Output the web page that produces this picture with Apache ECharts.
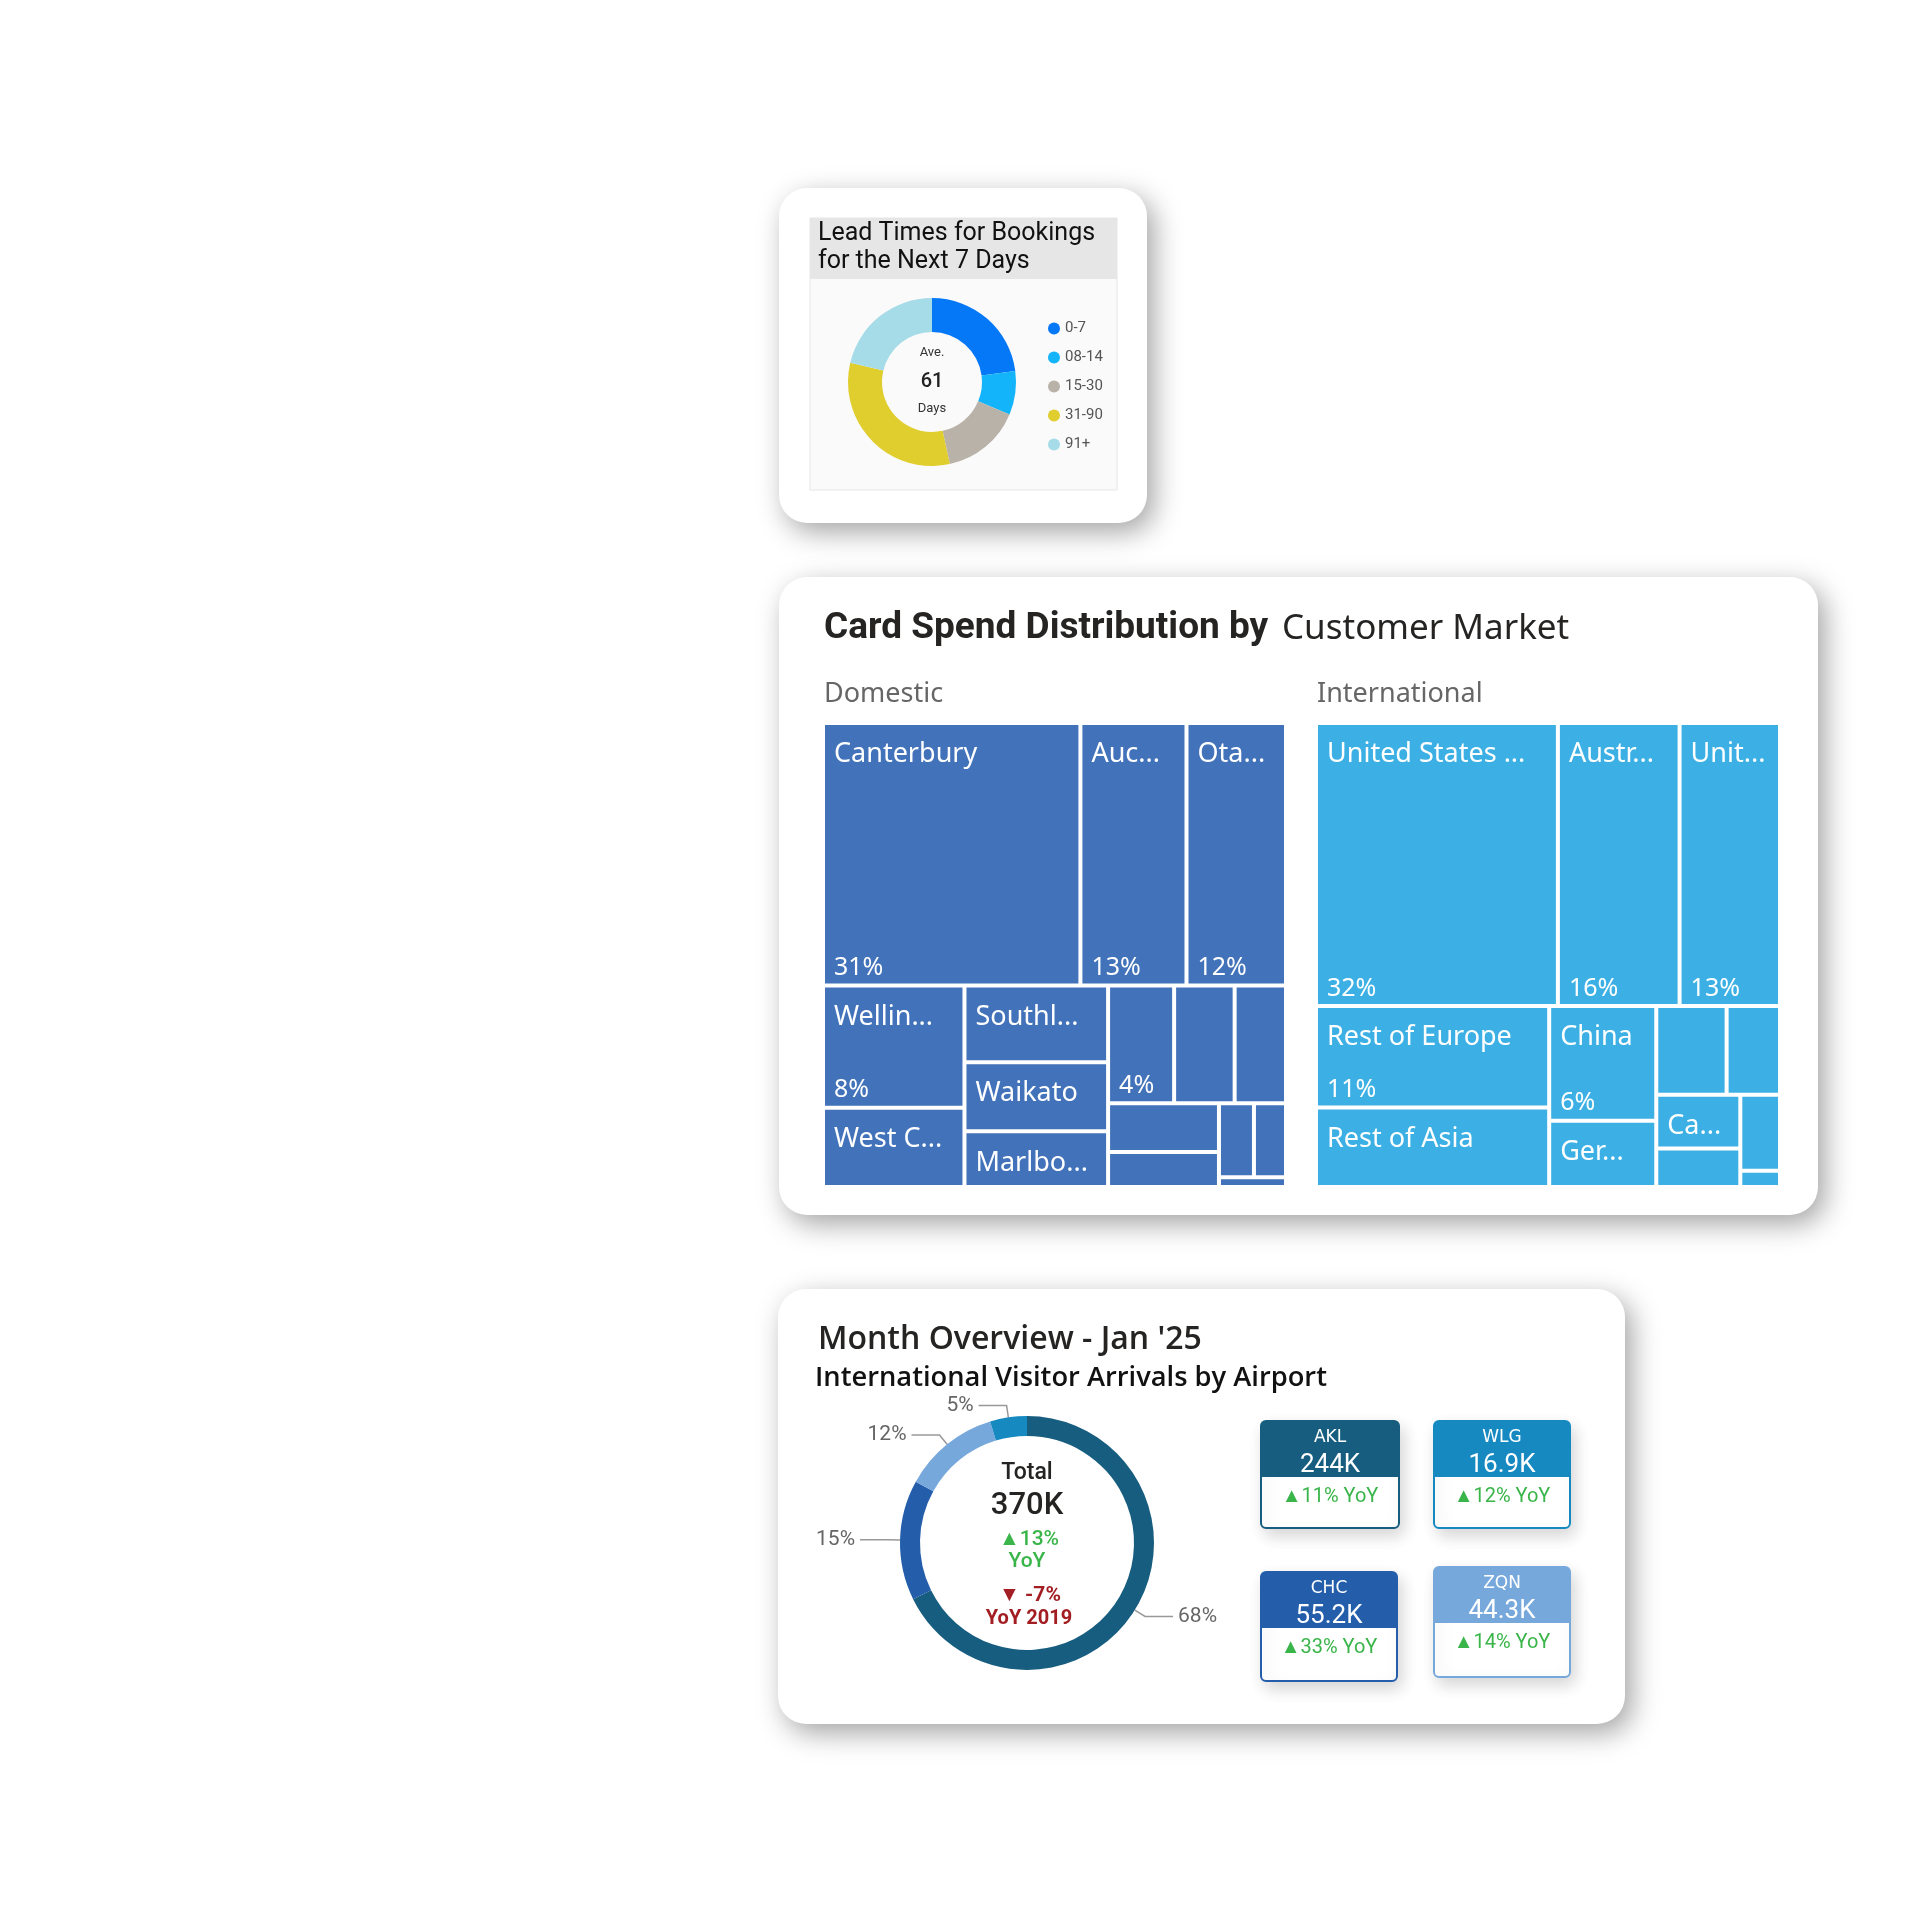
<!DOCTYPE html>
<html><head><meta charset="utf-8">
<script src="https://cdn.jsdelivr.net/npm/echarts@6/dist/echarts.min.js"></script>
<style>html,body{margin:0;padding:0;background:#fff}#c{width:1920px;height:1920px}</style>
</head><body><div id="c"></div>
<script>
// ---------- Lead times donut ----------
const leadCategories = ['0-7', '08-14', '15-30', '31-90', '91+'];
const leadShares = [22.9, 8.4, 15.3, 32.1, 21.3];
const leadColors = ['#0478f7', '#13b4f9', '#b9b2a8', '#e0cd2e', '#a6dbe8'];
const avgLeadDays = 61;

// ---------- Card spend treemaps ----------
const domesticRegions = ['Canterbury', 'Auckland', 'Otago', 'Wellington', 'West Coast', 'Southland', 'Waikato', 'Marlborough', 'Bay of Plenty', 'Nelson', "Hawke's Bay", 'Northland', 'Taranaki', 'Manawatū-Whanganui', 'Tasman', 'Gisborne'];
const domesticShort = ['Canterbury', 'Auc...', 'Ota...', 'Wellin...', 'West C...', 'Southl...', 'Waikato', 'Marlbo...', '', '', '', '', '', '', '', ''];
const domesticSpend = [31.3, 12.9, 12.1, 8.0, 5.2, 5.1, 4.6, 3.7, 3.6, 3.3, 2.8, 2.5, 1.8, 1.2, 1.1, 0.3];
const domesticShowPct = [1, 1, 1, 1, 0, 0, 0, 0, 1, 0, 0, 0, 0, 0, 0, 0];

const intlMarkets = ['United States of America', 'Australia', 'United Kingdom', 'Rest of Europe', 'Rest of Asia', 'China', 'Germany', 'Japan', 'India', 'Canada', 'Korea', 'Singapore', 'Other'];
const intlShort = ['United States ...', 'Austr...', 'Unit...', 'Rest of Europe', 'Rest of Asia', 'China', 'Ger...', '', '', 'Ca...', '', '', ''];
const intlSpend = [31.8, 16.0, 13.2, 11.0, 8.6, 5.7, 3.3, 2.9, 2.2, 2.1, 1.5, 1.4, 0.3];
const intlShowPct = [1, 1, 1, 1, 0, 1, 0, 0, 0, 0, 0, 0, 0];

// ---------- Month overview ----------
const airports = ['AKL', 'CHC', 'ZQN', 'WLG'];
const airportArrivalsK = [244, 55.2, 44.3, 16.9];
const airportYoY = [11, 33, 14, 12];
const airportColors = ['#165d7f', '#245eab', '#77a8dc', '#1789c1'];
const totalArrivalsK = 370;
const totalYoY = 13;
const yoyVs2019 = -7;

const DOM_COLOR = '#4272b9';
const INTL_COLOR = '#3cb0e4';

const chart = echarts.init(document.getElementById('c'), null, {renderer: 'canvas', width: 1920, height: 1920});

function card(x, y, w, h) {
  return {type: 'rect', z: 0, silent: true, shape: {x, y, width: w, height: h, r: 28},
    style: {fill: '#fff', shadowBlur: 28, shadowOffsetX: 7, shadowOffsetY: 9, shadowColor: 'rgba(0,0,0,0.36)'}};
}
function txt(x, y, text, font, fill, align) {
  return {type: 'text', z: 100, silent: true, x, y,
    style: {text, font, fill, align: align || 'left', verticalAlign: 'middle'}};
}

const g = [];
g.push(card(779, 188, 368, 335));
g.push(card(779, 577, 1039, 638));
g.push(card(778, 1289, 847, 435));
// lead times inner panel
g.push({type: 'rect', z: 1, silent: true, shape: {x: 810, y: 218, width: 307, height: 272}, style: {fill: '#fafafa', stroke: '#e6e6e6', lineWidth: 1}});
g.push({type: 'rect', z: 1, silent: true, shape: {x: 810, y: 218, width: 307, height: 61}, style: {fill: '#e6e6e6'}});
g.push(txt(818, 234, 'Lead Times for Bookings', '25px Roboto', '#111'));
g.push(txt(818, 262, 'for the Next 7 Days', '25px Roboto', '#111'));
g.push(txt(932, 353, 'Ave.', '13px Roboto', '#333', 'center'));
g.push(txt(932, 382, String(avgLeadDays), '500 20px Roboto', '#222', 'center'));
g.push(txt(932, 409, 'Days', '13px Roboto', '#333', 'center'));

// card spend titles
g.push(txt(824, 629, 'Card Spend Distribution by', 'bold 37px Roboto', '#252423'));
g.push(txt(1282, 629, 'Customer Market', '35px "Noto Sans"', '#252423'));
g.push(txt(824, 694, 'Domestic', '27px "Noto Sans"', '#666'));
g.push(txt(1317, 694, 'International', '27px "Noto Sans"', '#666'));

// month overview
g.push(txt(818, 1340, "Month Overview - Jan '25", '600 32px "Open Sans"', '#252423'));
g.push(txt(815, 1378, 'International Visitor Arrivals by Airport', '600 27.3px "Open Sans"', '#111'));
g.push(txt(1027, 1473, 'Total', '500 23px Roboto', '#252423', 'center'));
g.push(txt(1027, 1506, totalArrivalsK + 'K', '500 31px Roboto', '#252423', 'center'));
g.push(txt(1029, 1540, '▲' + totalYoY + '%', '500 21px Roboto', '#39b54a', 'center'));
g.push(txt(1027, 1562, 'YoY', '500 21px Roboto', '#39b54a', 'center'));
g.push(txt(1030, 1596, '▼ ' + yoyVs2019 + '%', 'bold 21px Roboto', '#a31e22', 'center'));
g.push(txt(1029, 1619, 'YoY 2019', 'bold 20px Roboto', '#a31e22', 'center'));

// KPI airport cards
const kpiBoxes = {AKL: [1261, 1421, 138, 107], WLG: [1434, 1421, 136, 107], CHC: [1261, 1572, 136, 109], ZQN: [1434, 1567, 136, 110]};
airports.forEach((a, i) => {
  const [x, y, w, h] = kpiBoxes[a];
  const c = airportColors[i];
  g.push({type: 'rect', z: 3, silent: true, shape: {x, y, width: w, height: h, r: 5},
    style: {fill: '#fff', stroke: c, lineWidth: 2, shadowBlur: 16, shadowOffsetX: 4, shadowOffsetY: 7, shadowColor: 'rgba(0,0,0,0.16)'}});
  g.push({type: 'rect', z: 4, silent: true, shape: {x: x, y: y, width: w, height: 56, r: [5, 5, 0, 0]}, style: {fill: c}});
  g.push(txt(x + w / 2, y + 17, a, '17px "DejaVu Sans"', '#fff', 'center'));
  g.push(txt(x + w / 2, y + 44.5, airportArrivalsK[i] + 'K', '26px Roboto', '#fff', 'center'));
  g.push(txt(x + w / 2, y + 75.5, '▲' + airportYoY[i] + '% YoY', '20px Roboto', '#39b54a', 'center'));
});

const domSum = domesticSpend.reduce((s, v) => s + v, 0);
const intlSum = intlSpend.reduce((s, v) => s + v, 0);

function treemap(left, width, names, values, color, shorts, showPct, sum, pctLayer) {
  const fill = pctLayer ? 'rgba(0,0,0,0)' : color;
  const border = pctLayer ? 'rgba(0,0,0,0)' : '#fff';
  return {
    type: 'treemap', left, top: 725, width, height: 460,
    roam: false, nodeClick: false, breadcrumb: {show: false}, animation: false, silent: true,
    sort: 'desc', visibleMin: 0, z: pctLayer ? 6 : 5,
    itemStyle: {gapWidth: 4, borderWidth: 0, borderColor: border},
    levels: [{itemStyle: {gapWidth: 4, borderWidth: 0, borderColor: border}}],
    upperLabel: {show: false},
    emphasis: {disabled: true},
    label: pctLayer
      ? {show: true, position: 'insideBottomLeft', distance: 0, padding: [0, 9, 3, 9], fontSize: 25, fontFamily: 'Noto Sans', color: '#fff',
         formatter: p => { const i = names.indexOf(p.name); return i >= 0 && showPct[i] ? Math.round(values[i] / sum * 100) + '%' : ''; }}
      : {show: true, position: 'insideTopLeft', distance: 0, padding: [16, 9, 0, 9], fontSize: 27, fontFamily: 'Noto Sans', color: '#fff',
         formatter: p => { const i = names.indexOf(p.name); return i >= 0 ? shorts[i] : ''; }},
    data: names.map((n, i) => ({
      name: n, value: values[i], itemStyle: {color: fill},
      label: {show: pctLayer ? !!showPct[i] : !!shorts[i]}
    }))
  };
}

const option = {
  backgroundColor: '#fff',
  animation: false,
  legend: {
    data: leadCategories, orient: 'vertical', left: 1043, top: 316, icon: 'circle',
    itemWidth: 12, itemHeight: 12, itemGap: 14, selectedMode: false,
    textStyle: {fontSize: 15, color: '#555', fontFamily: 'Roboto'}
  },
  graphic: {elements: g},
  series: [
    {
      type: 'pie', name: 'Lead Times', center: [932, 382], radius: [50, 84], startAngle: 90, clockwise: true,
      silent: true, z: 5, label: {show: false}, labelLine: {show: false},
      data: leadCategories.map((c, i) => ({name: c, value: leadShares[i], itemStyle: {color: leadColors[i]}}))
    },
    treemap(825, 459, domesticRegions, domesticSpend, DOM_COLOR, domesticShort, domesticShowPct, domSum, false),
    treemap(825, 459, domesticRegions, domesticSpend, DOM_COLOR, domesticShort, domesticShowPct, domSum, true),
    treemap(1318, 460, intlMarkets, intlSpend, INTL_COLOR, intlShort, intlShowPct, intlSum, false),
    treemap(1318, 460, intlMarkets, intlSpend, INTL_COLOR, intlShort, intlShowPct, intlSum, true),
    {
      type: 'pie', name: 'Arrivals', center: [1027, 1543], radius: [107, 127], startAngle: 90, clockwise: true,
      silent: true, z: 5, avoidLabelOverlap: false,
      label: {show: true, position: 'outside', formatter: p => Math.round(p.percent) + '%', color: '#666', fontSize: 21, fontFamily: 'Roboto'},
      labelLine: {show: true, length: 12, length2: 28, lineStyle: {color: '#999', width: 1.5}},
      data: airports.map((a, i) => ({name: a, value: airportArrivalsK[i], itemStyle: {color: airportColors[i]}}))
    }
  ]
};
chart.setOption(option);
</script></body></html>
